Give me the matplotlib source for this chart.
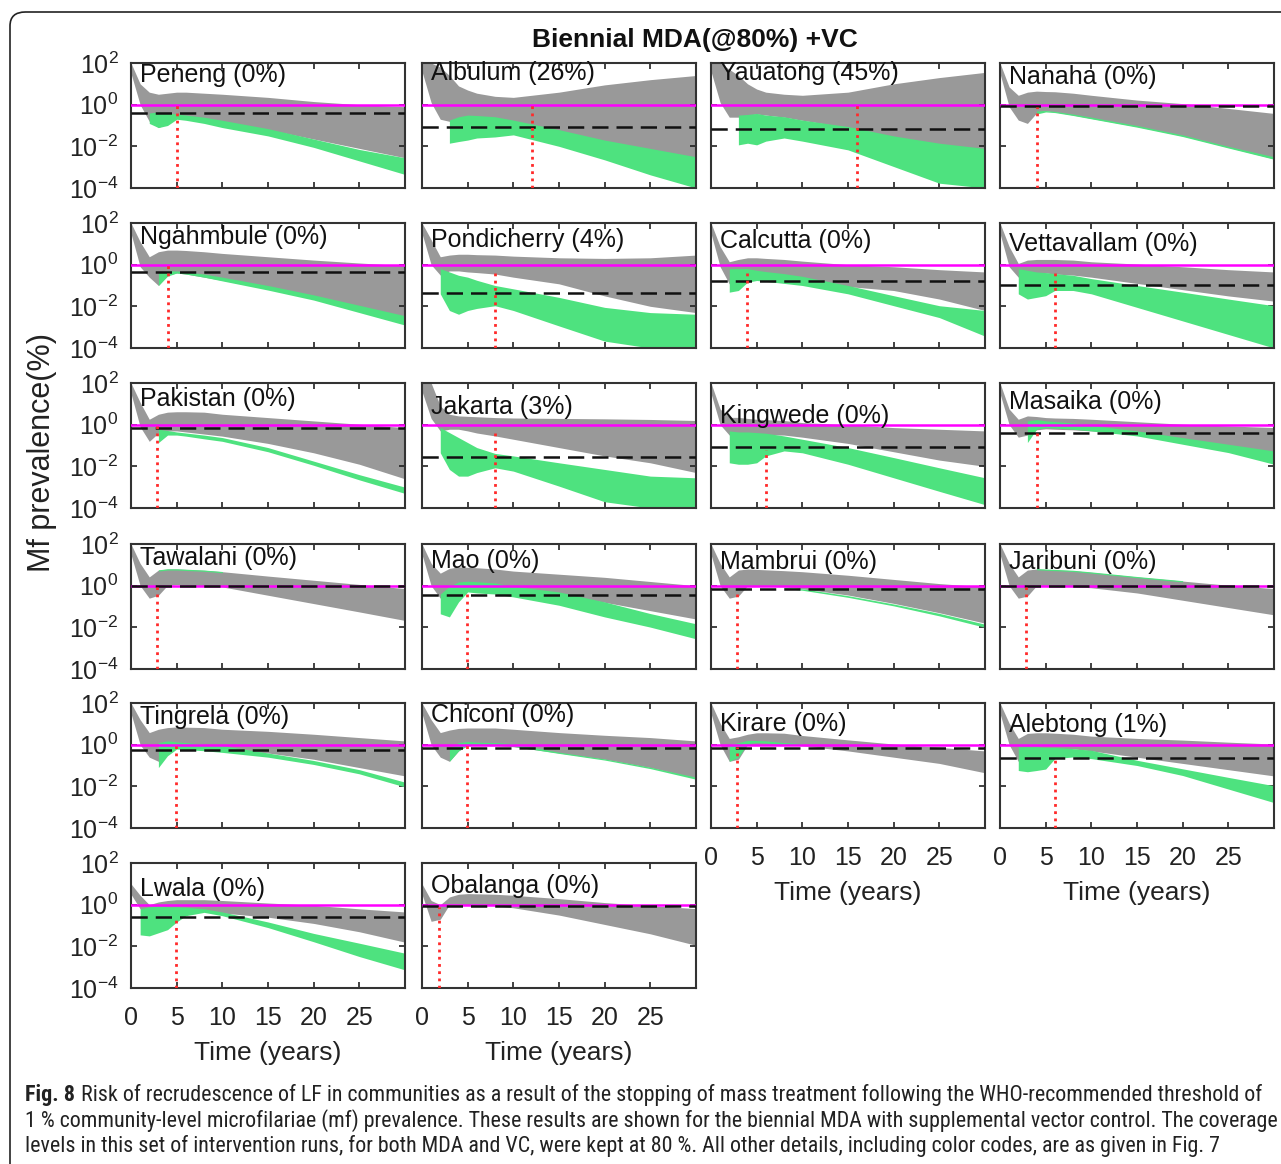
import numpy as np
import matplotlib.pyplot as plt
from matplotlib import font_manager
from matplotlib.patches import FancyBboxPatch
from matplotlib.ticker import FixedLocator, NullLocator, FuncFormatter

plt.rcParams['font.family'] = ['Liberation Sans', 'DejaVu Sans']

nan = np.nan

# %% data (prevalence bands are log10 of Mf %)
years = [0, 1, 2, 3, 4, 5, 6, 8, 10, 15, 20, 25, 30]

names = ["Peneng (0%)", "Albulum (26%)", "Yauatong (45%)", "Nanaha (0%)",
         "Ngahmbule (0%)", "Pondicherry (4%)", "Calcutta (0%)", "Vettavallam (0%)",
         "Pakistan (0%)", "Jakarta (3%)", "Kingwede (0%)", "Masaika (0%)",
         "Tawalani (0%)", "Mao (0%)", "Mambrui (0%)", "Jaribuni (0%)",
         "Tingrela (0%)", "Chiconi (0%)", "Kirare (0%)", "Alebtong (1%)",
         "Lwala (0%)", "Obalanga (0%)"]

# WHO stopping threshold (%) per site (black dashed)
thresholds = [0.38, 0.087, 0.066, 0.9, 0.45, 0.043, 0.17, 0.11,
              0.68, 0.029, 0.089, 0.42, 1.0, 0.35, 0.72, 1.0,
              0.58, 0.7, 0.72, 0.23, 0.26, 0.9]

# year when MDA stops (red dotted) and the top of the marker (log10 %)
stop_years = [5, 12, 16, 4, 4, 8, 3.9, 6, 2.8, 8, 6, 4,
              2.9, 4.9, 2.9, 2.9, 4.9, 4.9, 2.9, 6, 4.9, 1.9]
stop_tops = [0.1, 0.14, 0.14, -0.1, 0.05, -0.27, -0.24, -0.24, -0.06, -0.22, -1.2, -0.2,
             -0.05, -0.2, -0.2, -0.05, -0.05, 0.1, -0.1, -0.6, -0.75, -0.1]

gray_top = [
    [2.0, 1.0, 0.6, 0.5, 0.55, 0.6, 0.6, 0.55, 0.5, 0.35, 0.15, 0.0, -0.1],
    [2.0, 2.0, 1.8, 1.4, 0.9, 0.7, 0.55, 0.4, 0.35, 0.6, 0.95, 1.2, 1.4],
    [2.0, 2.0, 1.7, 1.4, 1.0, 0.75, 0.6, 0.5, 0.45, 0.6, 1.0, 1.3, 1.55],
    [2.0, 0.85, 0.45, 0.6, 0.65, 0.63, 0.62, 0.55, 0.45, 0.22, 0.05, -0.18, -0.42],
    [2.0, 1.1, 0.38, 0.62, 0.7, 0.7, 0.68, 0.62, 0.54, 0.38, 0.22, 0.08, -0.05],
    [2.0, 1.2, 0.38, 0.46, 0.5, 0.5, 0.48, 0.46, 0.41, 0.33, 0.3, 0.33, 0.46],
    [2.0, 0.87, 0.14, 0.25, 0.33, 0.33, 0.3, 0.25, 0.17, 0.0, -0.1, -0.24, -0.35],
    [2.0, 0.87, 0.06, 0.22, 0.25, 0.25, 0.25, 0.22, 0.14, 0.03, -0.1, -0.24, -0.35],
    [2.0, 1.07, 0.26, 0.5, 0.6, 0.62, 0.62, 0.6, 0.5, 0.34, 0.18, 0.02, -0.14],
    [2.0, 2.0, 0.9, 0.5, 0.42, 0.4, 0.38, 0.34, 0.32, 0.3, 0.28, 0.25, 0.2],
    [2.0, 0.75, 0.35, 0.35, 0.3, 0.26, 0.24, 0.2, 0.1, 0.0, -0.14, -0.22, -0.3],
    [2.0, 0.75, 0.26, 0.42, 0.39, 0.34, 0.32, 0.3, 0.26, 0.14, 0.02, -0.06, -0.14],
    [2.0, 1.07, 0.42, 0.75, 0.8, 0.8, 0.78, 0.74, 0.67, 0.46, 0.26, 0.06, -0.14],
    [2.0, 1.07, 0.6, 0.83, 0.9, 0.88, 0.86, 0.8, 0.7, 0.55, 0.4, 0.2, 0.0],
    [2.0, 1.07, 0.42, 0.75, 0.8, 0.78, 0.76, 0.72, 0.67, 0.5, 0.3, 0.1, -0.06],
    [2.0, 1.07, 0.42, 0.75, 0.8, 0.78, 0.76, 0.72, 0.64, 0.42, 0.22, 0.02, -0.14],
    [2.0, 1.2, 0.58, 0.74, 0.82, 0.85, 0.84, 0.82, 0.74, 0.64, 0.5, 0.34, 0.18],
    [2.0, 1.2, 0.58, 0.7, 0.78, 0.8, 0.8, 0.8, 0.74, 0.58, 0.45, 0.34, 0.18],
    [2.0, 1.03, 0.3, 0.38, 0.5, 0.57, 0.57, 0.55, 0.44, 0.23, 0.03, -0.13, -0.3],
    [2.0, 1.03, 0.3, 0.54, 0.57, 0.57, 0.55, 0.5, 0.41, 0.3, 0.22, 0.12, 0.03],
    [1.0, 0.45, 0.0, 0.13, 0.2, 0.24, 0.24, 0.24, 0.2, 0.08, -0.03, -0.2, -0.35],
    [1.0, 0.2, 0.0, 0.37, 0.5, 0.53, 0.52, 0.5, 0.45, 0.29, 0.1, -0.05, -0.19],
]
gray_bottom = [
    [1.5, 0.0, -0.8, -1.1, -0.9, -0.6, -0.55, -0.65, -0.8, -1.2, -1.65, -2.1, -2.55],
    [1.6, 0.1, -0.7, -0.8, -0.7, -0.6, -0.65, -0.7, -0.8, -1.3, -1.8, -2.2, -2.55],
    [1.6, 0.1, -0.6, -0.6, -0.5, -0.45, -0.5, -0.6, -0.75, -1.1, -1.55, -1.9, -2.15],
    [1.5, -0.1, -0.74, -0.9, -0.4, -0.3, -0.35, -0.5, -0.66, -1.05, -1.5, -2.05, -2.6],
    [1.5, -0.1, -0.6, -1.0, -0.5, -0.4, -0.45, -0.6, -0.75, -1.16, -1.57, -2.05, -2.54],
    [1.5, 0.0, -0.5, -0.3, -0.3, -0.35, -0.38, -0.45, -0.6, -0.92, -1.5, -2.0, -2.3],
    [1.5, -0.1, -0.92, -1.0, -0.8, -0.7, -0.72, -0.8, -0.9, -1.05, -1.24, -1.65, -2.2],
    [1.5, -0.1, -0.6, -0.4, -0.4, -0.4, -0.45, -0.5, -0.6, -0.9, -1.2, -1.5, -1.75],
    [1.5, -0.1, -0.8, -0.4, -0.3, -0.3, -0.35, -0.45, -0.55, -0.9, -1.35, -1.9, -2.6],
    [1.6, 0.3, -0.3, -0.22, -0.22, -0.3, -0.4, -0.54, -0.7, -1.1, -1.5, -1.83, -2.3],
    [1.5, 0.0, -0.5, -0.45, -0.45, -0.45, -0.48, -0.5, -0.6, -0.9, -1.3, -1.7, -2.0],
    [1.5, 0.0, -0.6, -0.5, -0.25, -0.2, -0.22, -0.25, -0.3, -0.5, -0.85, -1.2, -1.5],
    [1.5, 0.0, -0.6, -0.46, 0.02, 0.05, 0.03, 0.0, -0.06, -0.46, -0.86, -1.26, -1.67],
    [1.5, 0.0, -0.6, -0.6, -0.3, -0.1, -0.1, -0.1, -0.15, -0.4, -0.8, -1.2, -1.6],
    [1.5, 0.0, -0.6, -0.5, 0.0, 0.0, -0.02, -0.05, -0.15, -0.45, -0.85, -1.3, -1.8],
    [1.5, 0.0, -0.6, -0.5, 0.0, 0.0, -0.02, -0.05, -0.1, -0.35, -0.7, -1.05, -1.4],
    [1.5, 0.0, -0.6, -0.8, -0.4, -0.1, -0.1, -0.1, -0.2, -0.4, -0.7, -1.1, -1.5],
    [1.5, 0.0, -0.6, -0.8, -0.3, -0.05, -0.05, -0.05, -0.1, -0.4, -0.7, -1.1, -1.6],
    [1.5, 0.0, -0.8, -0.7, 0.0, 0.0, 0.0, 0.0, -0.05, -0.3, -0.6, -0.9, -1.35],
    [1.5, 0.0, -0.8, -1.0, -0.6, -0.3, -0.25, -0.2, -0.3, -0.6, -0.9, -1.2, -1.5],
    [0.5, -0.2, -0.8, -0.6, -0.4, -0.2, -0.25, -0.3, -0.4, -0.6, -0.9, -1.3, -1.8],
    [0.5, -0.8, -0.7, 0.0, 0.0, 0.0, -0.02, -0.05, -0.15, -0.5, -0.95, -1.4, -1.95],
]
green_top = [
    [nan, nan, -0.4, -0.35, -0.4, -0.45, -0.5, -0.6, -0.75, -1.15, -1.65, -2.15, -2.55],
    [nan, nan, nan, -0.74, -0.58, -0.5, -0.52, -0.58, -0.74, -1.2, -1.7, -2.1, -2.5],
    [nan, nan, nan, -0.5, -0.47, -0.42, -0.5, -0.58, -0.74, -1.05, -1.5, -1.85, -2.1],
    [nan, nan, nan, nan, -0.3, -0.28, -0.32, -0.45, -0.6, -1.0, -1.45, -2.0, -2.5],
    [nan, nan, nan, -0.4, -0.3, -0.3, -0.35, -0.45, -0.6, -1.0, -1.45, -1.95, -2.45],
    [nan, nan, -0.19, -0.35, -0.51, -0.6, -0.75, -1.0, -1.16, -1.57, -2.05, -2.3, -2.38],
    [nan, nan, -0.19, -0.19, -0.19, -0.27, -0.33, -0.43, -0.56, -1.0, -1.49, -1.97, -2.2],
    [nan, nan, -0.19, -0.27, -0.35, -0.38, -0.43, -0.51, -0.67, -1.0, -1.32, -1.65, -1.97],
    [nan, nan, nan, -0.22, -0.28, -0.35, -0.4, -0.5, -0.62, -1.1, -1.75, -2.4, -3.0],
    [nan, nan, -0.14, -0.38, -0.62, -0.86, -1.1, -1.38, -1.5, -1.83, -2.15, -2.47, -2.55],
    [nan, nan, -0.3, -0.35, -0.35, -0.38, -0.41, -0.54, -0.7, -1.1, -1.58, -2.07, -2.55],
    [nan, nan, nan, 0.18, 0.24, 0.18, 0.15, 0.08, -0.03, -0.3, -0.62, -0.94, -1.26],
    [nan, nan, nan, 0.76, 0.81, 0.81, 0.79, 0.75, 0.68, nan, nan, nan, nan],
    [nan, nan, -0.4, -0.03, 0.18, 0.21, 0.19, 0.13, -0.03, -0.3, -0.78, -1.34, -1.83],
    [nan, nan, nan, nan, nan, nan, nan, -0.08, -0.15, -0.48, -0.88, -1.33, -1.85],
    [nan, nan, nan, nan, 0.82, 0.8, 0.78, 0.74, 0.66, 0.44, 0.24, nan, nan],
    [nan, nan, nan, 0.1, 0.18, 0.13, 0.1, 0.02, -0.05, -0.4, -0.76, -1.2, -1.8],
    [nan, nan, nan, -0.2, 0.1, 0.15, 0.12, 0.1, 0.05, -0.36, -0.68, -1.08, -1.56],
    [nan, nan, 0.0, 0.1, 0.2, 0.2, 0.18, 0.1, 0.05, nan, nan, nan, nan],
    [nan, nan, -0.1, -0.1, -0.1, -0.13, -0.13, -0.19, -0.27, -0.75, -1.16, -1.57, -1.97],
    [nan, -0.2, -0.1, -0.07, -0.1, -0.1, -0.12, -0.2, -0.35, -0.83, -1.38, -1.85, -2.33],
    [nan, nan, nan, nan, nan, nan, nan, nan, nan, nan, nan, nan, nan],
]
green_bottom = [
    [nan, nan, -0.9, -1.1, -1.0, -0.7, -0.75, -0.9, -1.1, -1.5, -2.05, -2.7, -3.35],
    [nan, nan, nan, -1.85, -1.77, -1.7, -1.6, -1.55, -1.45, -2.0, -2.65, -3.37, -4.0],
    [nan, nan, nan, -1.93, -1.85, -1.93, -1.75, -1.6, -1.75, -2.17, -2.97, -3.77, -4.0],
    [nan, nan, nan, nan, -0.45, -0.35, -0.38, -0.52, -0.68, -1.08, -1.53, -2.08, -2.62],
    [nan, nan, nan, -1.0, -0.55, -0.4, -0.45, -0.6, -0.78, -1.22, -1.7, -2.3, -2.9],
    [nan, nan, -1.4, -2.2, -2.38, -2.2, -2.1, -1.97, -2.2, -2.94, -3.67, -4.0, -4.0],
    [nan, nan, -1.32, -1.24, -0.84, -0.76, -0.8, -0.9, -1.0, -1.4, -1.97, -2.54, -3.43],
    [nan, nan, -1.4, -1.65, -1.57, -1.49, -1.24, -1.24, -1.4, -2.05, -2.7, -3.35, -4.0],
    [nan, nan, nan, -0.86, -0.5, -0.5, -0.55, -0.68, -0.8, -1.3, -1.95, -2.65, -3.3],
    [nan, nan, -1.35, -2.15, -2.47, -2.47, -2.3, -2.07, -2.23, -2.95, -3.7, -4.0, -4.0],
    [nan, nan, -1.83, -1.9, -1.9, -1.83, -1.5, -1.26, -1.35, -1.9, -2.55, -3.2, -3.84],
    [nan, nan, nan, -0.86, -0.22, -0.14, -0.16, -0.22, -0.3, -0.54, -0.94, -1.34, -1.9],
    [nan, nan, nan, 0.7, 0.75, 0.75, 0.73, 0.69, 0.62, nan, nan, nan, nan],
    [nan, nan, -1.35, -1.5, -0.78, -0.3, -0.35, -0.4, -0.54, -0.94, -1.5, -1.99, -2.55],
    [nan, nan, nan, nan, nan, nan, nan, -0.13, -0.22, -0.56, -0.97, -1.45, -2.0],
    [nan, nan, nan, nan, 0.76, 0.74, 0.72, 0.68, 0.6, 0.38, 0.18, nan, nan],
    [nan, nan, nan, -1.1, -0.53, -0.21, -0.24, -0.29, -0.37, -0.6, -0.95, -1.4, -2.03],
    [nan, nan, nan, -0.8, -0.3, 0.0, 0.0, -0.02, -0.08, -0.42, -0.74, -1.15, -1.66],
    [nan, nan, -0.8, -0.6, 0.05, 0.1, 0.08, 0.0, -0.02, nan, nan, nan, nan],
    [nan, nan, -1.24, -1.3, -1.24, -1.17, -0.67, -0.59, -0.67, -1.0, -1.48, -2.13, -2.78],
    [nan, -1.45, -1.5, -1.35, -1.2, -0.83, -0.53, -0.37, -0.53, -1.1, -1.78, -2.49, -3.13],
    [nan, nan, nan, nan, nan, nan, nan, nan, nan, nan, nan, nan, nan],
]

# panel title offset below the top frame (pixels)
title_dy = [12, 10, 10, 14, 14, 17, 18, 21, 16, 24, 33, 19,
            14, 17, 18, 18, 14, 12, 21, 22, 26, 23]

# %% layout
W, H = 1281, 1164
col_x = [131, 422, 711, 1000]
row_y = [63, 223, 383, 544, 703, 863]
ax_w, ax_h = 274, 125

GRAY = '#999999'
GREEN = '#4ee27f'
MAGENTA = '#ff00ff'
RED = '#ff2a2a'
FS = 18

fig = plt.figure(figsize=(W / 100, H / 100), dpi=100)

frame = FancyBboxPatch((10 / W, -20 / H), 1300 / W, (H + 8) / H,
                       boxstyle="round,pad=0,rounding_size=0.012",
                       transform=fig.transFigure, fill=False, lw=1.2, ec='#222222')
fig.patches.append(frame)

ylab = FuncFormatter(lambda v, p: r'$\mathregular{10^{%d}}$' % round(np.log10(v)))
x = np.array(years, dtype=float)

for i, name in enumerate(names):
    row, col = divmod(i, 4)
    px, py = col_x[col], row_y[row]
    ax = fig.add_axes([px / W, 1 - (py + ax_h) / H, ax_w / W, ax_h / H])
    ax.set_yscale('log')

    gt = 10 ** np.array(gray_top[i])
    gb = 10 ** np.array(gray_bottom[i])
    ax.fill_between(x, gb, gt, color=GRAY, lw=0, zorder=1)
    et = 10 ** np.array(green_top[i])
    eb = 10 ** np.array(green_bottom[i])
    ax.fill_between(x, eb, et, color=GREEN, lw=0, zorder=2)

    ax.axhline(1.0, color=MAGENTA, lw=1.8, zorder=3)
    ax.axhline(thresholds[i], color='#111111', lw=1.8, dashes=(6.5, 3.2), zorder=4)
    ax.vlines(stop_years[i], 1e-4, 10 ** stop_tops[i], color=RED, lw=2,
              linestyles=(0, (1, 1.6)), zorder=5)

    ax.set_xlim(0, 30)
    ax.set_ylim(1e-4, 1e2)
    ax.xaxis.set_major_locator(FixedLocator([0, 5, 10, 15, 20, 25]))
    ax.yaxis.set_major_locator(FixedLocator([1e-4, 1e-2, 1e0, 1e2]))
    ax.xaxis.set_minor_locator(NullLocator())
    ax.yaxis.set_minor_locator(NullLocator())
    ax.yaxis.set_major_formatter(ylab)
    ax.tick_params(direction='in', top=True, right=True, length=4, width=1.2,
                   labelsize=FS, colors='#222222')
    ax.tick_params(axis='x', pad=13)
    ax.tick_params(axis='y', pad=9)
    for s in ax.spines.values():
        s.set_linewidth(1.5)
        s.set_color('#333333')

    bottom = (row == 5) or (row == 4 and col >= 2)
    if col != 0:
        ax.set_yticklabels([])
    if not bottom:
        ax.set_xticklabels([])
    else:
        ax.annotate('Time (years)', xy=(0.5, 0), xycoords='axes fraction',
                    xytext=(0, -65), textcoords='offset pixels',
                    ha='center', va='center', fontsize=19, color='#222222')

    ax.annotate(name, xy=(0, 1), xycoords='axes fraction',
                xytext=(9, -title_dy[i]), textcoords='offset pixels',
                ha='left', va='center', fontsize=FS, color='#111111', zorder=10)

fig.text(695 / W, 1 - 40 / H, 'Biennial MDA(@80%) +VC', ha='center', va='center',
         fontsize=19, fontweight='bold', color='#111111')
fig.text(42 / W, 1 - 452 / H, 'Mf prevalence(%)', rotation=90, ha='center',
         va='center', fontsize=22, color='#222222')

# %% caption
available = {f.name for f in font_manager.fontManager.ttflist}
cap_family = ['Liberation Sans', 'DejaVu Sans']
for cand in ['Liberation Sans Narrow', 'Roboto Condensed', 'Open Sans Condensed',
             'DejaVu Sans Condensed']:
    if cand in available:
        cap_family = [cand, 'DejaVu Sans']
        break

cap_lead = 'Fig. 8'
cap_lines = [
    "Risk of recrudescence of LF in communities as a result of the stopping of mass treatment "
    "following the WHO-recommended threshold of",
    "1 % community-level microfilariae (mf) prevalence. These results are shown for the biennial "
    "MDA with supplemental vector control. The coverage",
    "levels in this set of intervention runs, for both MDA and VC, were kept at 80 %. All other "
    "details, including color codes, are as given in Fig. 7",
]
cap_y = [1095, 1121, 1146]
renderer = fig.canvas.get_renderer()

# size the caption so the second (longest) line ends where it does in the figure
probe = fig.text(25 / W, 0.5, cap_lines[1], fontsize=14, family=cap_family)
cap_fs = 14 * (1285 - 25) / probe.get_window_extent(renderer).width
probe.remove()

lead = fig.text(25 / W, 1 - cap_y[0] / H, cap_lead, ha='left', va='center',
                fontsize=cap_fs, fontweight='bold', family=cap_family, color='#222222')
lead_w = lead.get_window_extent(renderer).width
for k, line in enumerate(cap_lines):
    x0 = 25 + (lead_w + cap_fs * 0.35 if k == 0 else 0)
    fig.text(x0 / W, 1 - cap_y[k] / H, line, ha='left', va='center', fontsize=cap_fs,
             family=cap_family, color='#222222')

plt.savefig('out.png', dpi=100)
